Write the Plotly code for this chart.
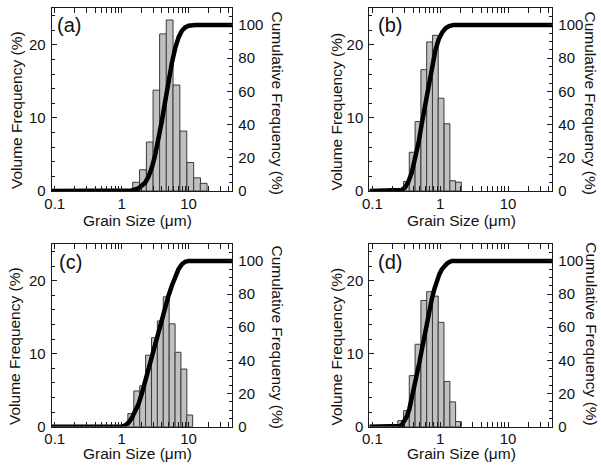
import numpy as np
import plotly.graph_objects as go

# ---------------- data ----------------
# Panel (a)
a_bin_um = [1.64, 2.08, 2.63, 3.31, 4.15, 5.21, 6.58, 8.35, 10.6, 13.4, 16.8]
a_vol = [1.2, 2.9, 6.7, 13.8, 21.5, 23.4, 14.5, 8.2, 3.9, 1.8, 1.05]
a_cum_um = [0.09, 1.12, 1.41, 1.78, 2.0, 2.24, 2.51, 2.82, 3.16, 3.55, 3.98, 4.47,
            5.01, 5.62, 6.31, 7.08, 7.94, 8.91, 10.0, 12.6, 45]
a_cum = [0, 0, 0.3, 1.5, 3, 5, 8.5, 14, 21.5, 31, 42, 54,
         66, 77, 86, 92.5, 96.5, 98.5, 99.5, 100, 100]

# Panel (b)
b_bin_um = [0.318, 0.386, 0.470, 0.573, 0.697, 0.848, 1.03, 1.26, 1.53, 1.86]
b_vol = [1.3, 5.3, 9.5, 16.6, 20.4, 21.3, 12.7, 9.2, 1.4, 1.2]
b_cum_um = [0.09, 0.24, 0.269, 0.302, 0.339, 0.380, 0.427, 0.479, 0.537, 0.603,
            0.676, 0.759, 0.851, 0.955, 1.07, 1.20, 1.35, 1.58, 45]
b_cum = [0, 0, 0.6, 2, 5.5, 11, 19, 29, 41, 53,
         65, 76, 85, 91.5, 95.5, 98, 99.3, 100, 100]

# Panel (c)
c_bin_um = [1.37, 1.68, 2.06, 2.52, 3.09, 3.78, 4.63, 5.68, 6.95, 8.51, 10.4]
c_vol = [1.8, 4.9, 5.6, 9.8, 12.2, 14.5, 17.8, 14.1, 10.2, 7.9, 1.6]
c_cum_um = [0.09, 1.0, 1.12, 1.26, 1.41, 1.58, 1.78, 2.0, 2.24, 2.51, 2.82, 3.16,
            3.55, 3.98, 4.47, 5.01, 5.62, 6.31, 7.08, 7.94, 8.91, 10.0, 45]
c_cum = [0, 0, 0.7, 2.3, 5, 8.5, 13.5, 20, 27.5, 35.5, 43.5, 51,
         58.5, 65.5, 72.5, 79, 85, 90.5, 95, 98, 99.5, 100, 100]

# Panel (d)
d_bin_um = [0.261, 0.318, 0.386, 0.470, 0.573, 0.697, 0.848, 1.03, 1.26, 1.53, 1.86]
d_vol = [0.83, 2.2, 7.0, 11.3, 17.3, 18.5, 17.9, 14.3, 6.2, 3.4, 0.7]
d_cum_um = [0.09, 0.229, 0.251, 0.271, 0.295, 0.321, 0.350, 0.381, 0.415, 0.452,
            0.492, 0.536, 0.583, 0.635, 0.692, 0.753, 0.820, 0.893, 0.973, 1.06,
            1.15, 1.26, 1.37, 1.49, 45]
d_cum = [0, 0, 0.4, 1, 3, 6, 10.5, 17, 23.5, 31, 38.5,
         46.5, 54.5, 62.5, 70, 77, 83, 88, 92, 95,
         97, 98.4, 99.4, 100, 100]

panel_labels = ["(a)", "(b)", "(c)", "(d)"]
x_tick_um = [0.1, 1, 10]
x_tick_text = ["0.1", "1", "10"]
left_ticks = [0, 10, 20]
right_ticks = [0, 20, 40, 60, 80, 100]
x_title = "Grain Size (μm)"
left_title = "Volume Frequency (%)"
right_title = "Cumulative Frequency (%)"

# ---------------- style / layout ----------------
W, H = 601, 466
FONT = "Liberation Sans, Arial, sans-serif"
AX = "#1a1a1a"
X_MIN_UM, X_MAX_UM = 0.09, 45

panels = [
    (a_bin_um, a_vol, a_cum_um, a_cum),
    (b_bin_um, b_vol, b_cum_um, b_cum),
    (c_bin_um, c_vol, c_cum_um, c_cum),
    (d_bin_um, d_vol, d_cum_um, d_cum),
]
# pixel boxes of plot areas
px_x = [(51.7, 232.3), (369.3, 552.3), (51.7, 232.3), (369.3, 552.3)]
px_y = [(8.3, 191.0), (8.3, 191.0), (244.3, 426.7), (244.3, 426.7)]
x_label_standoff = [-1, -1, -2, -2]
# annotation pixel positions: label, left title, right title, x title
lab_pos = [(69.2, 25), (389.5, 25), (70, 261.7), (389.5, 261.7)]
ltit_pos = [(16, 110), (335.5, 111), (14, 346), (335.5, 346)]
rtit_pos = [(277, 102.5), (590, 102.5), (277, 336.5), (591.7, 334)]
xtit_pos = [(137.5, 220), (461, 220.5), (137.5, 453), (461.7, 453)]


def px2paper(x, y):
    return x / W, 1 - y / H


minor_x = [m * 10.0 ** e for e in (-1, 0, 1) for m in range(2, 10)]
minor_x = [v for v in minor_x if X_MIN_UM < v < X_MAX_UM]

fig = go.Figure()
layout = dict(
    width=W, height=H, margin=dict(l=0, r=0, t=0, b=0, pad=0, autoexpand=False),
    paper_bgcolor="white", plot_bgcolor="white",
    showlegend=False, font=dict(family=FONT, size=15, color="#111111"),
    annotations=[],
)

for i, (bins, vol, cx, cy) in enumerate(panels):
    xn = "" if i == 0 else str(i + 1)
    yl = "" if i == 0 else str(2 * i + 1)
    yr = str(2 * i + 2)
    lx = np.log10(bins)
    w = float(np.median(np.diff(lx)))
    fig.add_trace(go.Bar(
        x=lx, y=vol, width=w,
        marker=dict(color="#c0c0c0", line=dict(color="#3a3a3a", width=1)),
        xaxis="x" + xn, yaxis="y" + yl, hoverinfo="skip",
    ))
    fig.add_trace(go.Scatter(
        x=np.log10(cx), y=cy, mode="lines",
        line=dict(color="black", width=4.5),
        xaxis="x" + xn, yaxis="y" + yr, hoverinfo="skip",
    ))
    x0, x1 = px_x[i]
    yt, yb = px_y[i]
    dx = [x0 / W, x1 / W]
    dy = [1 - yb / H, 1 - yt / H]
    common = dict(showline=True, linecolor=AX, linewidth=1, ticks="inside",
                  tickcolor=AX, tickwidth=1, ticklen=5, showgrid=False,
                  zeroline=False, automargin=False,
                  tickfont=dict(family=FONT, size=15, color="#111111"))
    layout["xaxis" + xn] = dict(
        domain=dx, anchor="y" + yl, range=[np.log10(X_MIN_UM), np.log10(X_MAX_UM)],
        tickmode="array", tickvals=np.log10(x_tick_um).tolist(), ticktext=x_tick_text,
        mirror="allticks", ticklabelstandoff=x_label_standoff[i],
        minor=dict(tickmode="array", tickvals=np.log10(minor_x).tolist(),
                   ticks="inside", ticklen=3, tickcolor=AX, tickwidth=1, showgrid=False),
        **common)
    layout["yaxis" + yl] = dict(
        domain=dy, anchor="x" + xn, range=[0, 25], tickmode="array",
        tickvals=left_ticks, ticklabelstandoff=2,
        minor=dict(dtick=2, tick0=0, ticks="inside", ticklen=3, tickcolor=AX,
                   tickwidth=1, showgrid=False),
        **common)
    layout["yaxis" + yr] = dict(
        domain=dy, anchor="x" + xn, overlaying="y" + yl, side="right",
        range=[0, 110], tickmode="array", tickvals=right_ticks, ticklabelstandoff=2,
        minor=dict(dtick=5, tick0=0, ticks="inside", ticklen=3, tickcolor=AX,
                   tickwidth=1, showgrid=False),
        **common)

    for (px, py), text, ang, size in [
        (lab_pos[i], panel_labels[i], 0, 20),
        (ltit_pos[i], left_title, -90, 15.5),
        (rtit_pos[i], right_title, 90, 15.5),
        (xtit_pos[i], x_title, 0, 15.5),
    ]:
        ax_, ay_ = px2paper(px, py)
        layout["annotations"].append(dict(
            x=ax_, y=ay_, xref="paper", yref="paper", text=text, showarrow=False,
            textangle=ang, xanchor="center", yanchor="middle",
            font=dict(family=FONT, size=size, color="#111111")))

fig.update_layout(**layout)
fig.write_html(
    "out.html",
    config={"displayModeBar": False, "staticPlot": True},
    post_script="document.body.style.margin='0px';"
                "document.body.style.overflow='hidden';"
                "document.documentElement.style.overflow='hidden';",
)
